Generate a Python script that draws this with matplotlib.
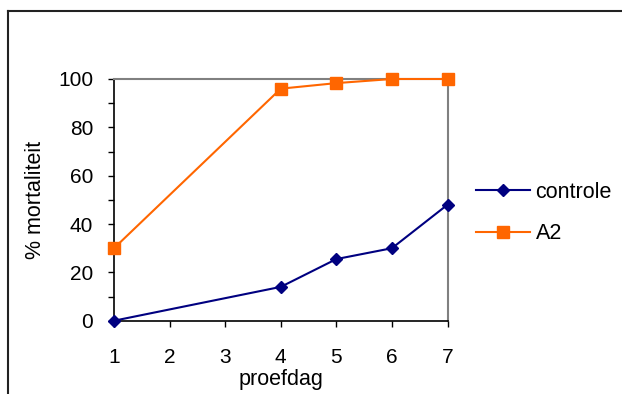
import numpy as np
import matplotlib.pyplot as plt
from matplotlib.lines import Line2D

plt.switch_backend('agg')
plt.rcParams['font.family'] = ['Liberation Sans', 'DejaVu Sans']
plt.rcParams['font.size'] = 15

# mortality per test day
dagen = [1, 4, 5, 6, 7]
controle = [0, 14, 25.5, 30, 48]
a2 = [30, 96, 98.3, 100, 100]

fig = plt.figure(figsize=(6.22, 3.94), dpi=100)
ax = fig.add_axes([0.1833, 0.186, 0.5362, 0.6135])

ax.plot(dagen, controle, color='#000080', lw=1.5, marker='D', ms=6,
        label='controle', clip_on=False, zorder=3)
ax.plot(dagen, a2, color='#FF6600', lw=1.5, marker='s', ms=8,
        label='A2', clip_on=False, zorder=3)

ax.set_xlim(1, 7)
ax.set_ylim(0, 100)
ax.set_xticks(np.arange(1, 8))
ax.set_yticks(np.arange(0, 101, 20))
ax.set_yticks(np.arange(10, 100, 20), minor=True)
ax.tick_params(axis='both', which='both', direction='out', length=4,
               width=1, color='black')
ax.tick_params(axis='y', which='major', pad=11)
ax.tick_params(axis='x', which='major', pad=16)

for s in ['left', 'bottom']:
    ax.spines[s].set_color('black')
    ax.spines[s].set_linewidth(1.2)
for s in ['top', 'right']:
    ax.spines[s].set_color('#808080')
    ax.spines[s].set_linewidth(1.5)

ax.set_xlabel('proefdag', labelpad=1, fontsize=15.5)
ax.set_ylabel('% mortaliteit', labelpad=9, fontsize=15.5)

fig.legend(loc='center left', bbox_to_anchor=(0.752, 0.459), frameon=False,
           handlelength=2.5, labelspacing=0.95, handletextpad=0.25,
           borderaxespad=0, fontsize=15.5)

# outer chart frame (left and top edges)
fig.add_artist(Line2D([8/622, 8/622], [-0.1, 1 - 11/394], color='#222222',
                      lw=1.5, transform=fig.transFigure))
fig.add_artist(Line2D([8/622, 1.1], [1 - 11/394, 1 - 11/394], color='#222222',
                      lw=1.5, transform=fig.transFigure))

plt.savefig('out.png', dpi=100)
